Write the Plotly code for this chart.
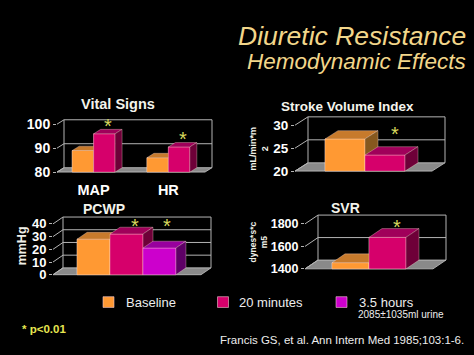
import plotly.graph_objects as go

W, H = 474, 355

# ---------------- data ----------------
series_names = ["Baseline", "20 minutes", "3.5 hours"]

vital_categories = ["MAP", "HR"]
vital_baseline = [89, 86]
vital_20min = [96, 90.5]
vital_ticks = [80, 90, 100]

svi_baseline = [27]
svi_20min = [23.5]
svi_ticks = [20, 25, 30]

pcwp_baseline = [28]
pcwp_20min = [32]
pcwp_35h = [21]
pcwp_ticks = [0, 10, 20, 30, 40]

svr_baseline = [1455]
svr_20min = [1680]
svr_ticks = [1400, 1600, 1800]

# significance (p<0.01) flags: per series, per category
vital_sig = [[False, False], [True, True]]
svi_sig = [[False], [True]]
pcwp_sig = [[False], [True], [True]]
svr_sig = [[False], [True]]

title_main = "Diuretic Resistance"
title_sub = "Hemodynamic Effects"
urine_note = "2085±1035ml urine"
p_note = "* p<0.01"
citation = "Francis GS, et al. Ann Intern Med 1985;103:1-6."

# ---------------- style ----------------
FONT = "Liberation Sans, Arial, sans-serif"
FRONT = ["#FF9933", "#D6006B", "#CC00CC"]
TOP = ["#C77A2C", "#A0005A", "#98009E"]
SIDE = ["#86581E", "#6E0038", "#5E0066"]
EDGE = "rgba(255,225,215,0.55)"
GRID = "#B4B4B4"
FLOOR = "#8A8A8A"
STAR = "#D9D95C"

panels = [
    dict(title="Vital Signs", title_pos=(118, 104, 14.5), cats=vital_categories,
         series=[vital_baseline, vital_20min], sig=vital_sig, ticks=vital_ticks,
         box=(57, 205, 125, 174), xspan=(-0.49, 1.49), bw=0.287, dx=7, dy=4.5,
         tick_size=14, star_gap=8.5, star_level=None, star_dx=4,
         ytitle=None),
    dict(title="Stroke Volume Index", title_pos=(347.5, 107, 13.5), cats=[""],
         series=[svi_baseline, svi_20min], sig=svi_sig, ticks=svi_ticks,
         box=(295, 432, 126, 173), xspan=(-1.75, 1.675), bw=1.0, dx=13, dy=8.5,
         tick_size=13.5, star_gap=None, star_level=29.2, star_dx=10,
         ytitle=("mL/min*m<br>2", 259, 150, 9)),
    dict(title="PCWP", title_pos=(104, 212, 14), cats=[""],
         series=[pcwp_baseline, pcwp_20min, pcwp_35h], sig=pcwp_sig, ticks=pcwp_ticks,
         box=(53, 201, 227, 279), xspan=(-2.23, 2.26), bw=1.0, dx=10, dy=7,
         tick_size=13, star_gap=None, star_level=42.0, star_dx=8,
         ytitle=("mmHg", 22, 250, 12.5)),
    dict(title="SVR", title_pos=(345, 211, 14), cats=[""],
         series=[svr_baseline, svr_20min], sig=svr_sig, ticks=svr_ticks,
         box=(305, 433, 227, 273), xspan=(-1.73, 1.73), bw=1.0, dx=13, dy=9,
         tick_size=12.5, star_gap=None, star_level=1820, star_dx=9,
         ytitle=("dynes*s*c<br>m5", 258, 246, 8.5)),
]

fig = go.Figure()
shapes = []
annotations = []
layout_axes = {}


def px_x(px):
    return px / W


def px_y(py):
    return 1 - py / H


def note(px, py, text, size, color, xanchor="center", weight="normal", angle=0):
    annotations.append(dict(x=px_x(px), y=px_y(py), xref="paper", yref="paper",
                            xanchor=xanchor, yanchor="middle", text=text,
                            textangle=angle, showarrow=False,
                            font=dict(family=FONT, size=size, color=color, weight=weight)))


for i, p in enumerate(panels, start=1):
    sfx = "" if i == 1 else str(i)
    xref, yref = "x" + sfx, "y" + sfx
    xl, xr, yt, yb = p["box"]
    x_lo, x_hi = p["xspan"]
    ymin, ymax = p["ticks"][0], p["ticks"][-1]
    sx = (x_hi - x_lo) / (xr - xl)
    sy = (ymax - ymin) / (yb - yt)
    dxu, dyu = p["dx"] * sx, p["dy"] * sy
    pad = 2
    layout_axes["xaxis" + sfx] = dict(
        domain=[px_x(xl), px_x(xr + p["dx"] + pad)],
        range=[x_lo, x_hi + dxu + pad * sx],
        anchor=yref, showgrid=False, zeroline=False, showline=False,
        tickvals=list(range(len(p["cats"]))), ticktext=p["cats"],
        showticklabels=any(c for c in p["cats"]),
        ticks="outside", ticklen=3, tickcolor="rgba(0,0,0,0)",
        tickfont=dict(family=FONT, size=14.5, color="white", weight="bold"),
        fixedrange=True)
    layout_axes["yaxis" + sfx] = dict(
        domain=[px_y(yb + pad), px_y(yt - p["dy"] - pad)],
        range=[ymin - pad * sy, ymax + dyu + pad * sy],
        anchor=xref, showgrid=False, zeroline=False, showline=False,
        tickvals=p["ticks"], ticks="outside", ticklen=3, tickwidth=1,
        tickcolor=GRID,
        tickfont=dict(family=FONT, size=p["tick_size"], color="white", weight="bold"),
        fixedrange=True)

    # floor and back walls (below traces)
    fx0, fx1 = x_lo, x_hi
    shapes.append(dict(type="path", xref=xref, yref=yref, layer="below",
                       path=f"M{fx0},{ymin} L{fx1},{ymin} L{fx1+dxu},{ymin+dyu} L{fx0+dxu},{ymin+dyu} Z",
                       fillcolor=FLOOR, line=dict(color="#C8C8C8", width=0.8)))
    for t in p["ticks"]:
        if t != ymin:
            shapes.append(dict(type="line", xref=xref, yref=yref, layer="below",
                               x0=fx0 + dxu, x1=fx1 + dxu, y0=t + dyu, y1=t + dyu,
                               line=dict(color=GRID, width=1)))
        shapes.append(dict(type="line", xref=xref, yref=yref, layer="below",
                           x0=fx0, x1=fx0 + dxu, y0=t, y1=t + dyu,
                           line=dict(color=GRID, width=1)))
    for xe in (fx0 + dxu, fx1 + dxu):
        shapes.append(dict(type="line", xref=xref, yref=yref, layer="below",
                           x0=xe, x1=xe, y0=ymin + dyu, y1=ymax + dyu,
                           line=dict(color=GRID, width=1)))

    # bars
    n = len(p["series"])
    bw = p["bw"]
    boxes = []
    for s, vals in enumerate(p["series"]):
        xs = [c + (s - (n - 1) / 2) * bw for c in range(len(vals))]
        fig.add_trace(go.Bar(
            x=xs, y=[v - ymin for v in vals], base=ymin, width=bw,
            name=series_names[s], marker=dict(color=FRONT[s], line=dict(color=EDGE, width=0.6)),
            xaxis=xref, yaxis=yref, showlegend=False, hoverinfo="skip"))
        for c, (xc, v) in enumerate(zip(xs, vals)):
            boxes.append((xc, v, s, p["sig"][s][c]))

    # 3-D faces, painted left to right
    for xc, v, s, sig in sorted(boxes, key=lambda b: b[0]):
        xa, xb = xc - bw / 2, xc + bw / 2
        polys = [
            ([xa, xb, xb, xa, xa], [ymin, ymin, v, v, ymin], FRONT[s]),
            ([xa, xb, xb + dxu, xa + dxu, xa], [v, v, v + dyu, v + dyu, v], TOP[s]),
            ([xb, xb + dxu, xb + dxu, xb, xb], [ymin, ymin + dyu, v + dyu, v, ymin], SIDE[s]),
        ]
        for px_, py_, col in polys:
            fig.add_trace(go.Scatter(
                x=px_, y=py_, mode="lines", fill="toself", fillcolor=col,
                line=dict(color=EDGE, width=0.6), xaxis=xref, yaxis=yref,
                showlegend=False, hoverinfo="skip"))
        if sig:
            if p["star_level"] is not None:
                ys = p["star_level"]
            else:
                ys = v + dyu + p["star_gap"] * sy
            annotations.append(dict(x=xc + p["star_dx"] * sx, y=ys, xref=xref, yref=yref, text="*",
                                    xanchor="center", yanchor="middle",
                                    showarrow=False, yshift=-5,
                                    font=dict(family=FONT, size=20, color=STAR)))

    tx, ty, tsz = p["title_pos"]
    note(tx, ty, p["title"], tsz, "#F4F4EC", weight="bold")
    if p["ytitle"]:
        txt, ax_, ay_, fs = p["ytitle"]
        note(ax_, ay_, txt, fs, "#F0F0E8", weight="bold", angle=-90)

# titles
note(468, 35, f"<i>{title_main}</i>", 26.5, "#F2D68A", xanchor="right")
note(468, 61, f"<i>{title_sub}</i>", 22.5, "#F2D68A", xanchor="right")

# legend
leg_sq = [108.5, 223, 341.5]
leg_tx = [124, 237, 357]
for s, name in enumerate(series_names):
    shapes.append(dict(type="rect", xref="paper", yref="paper",
                       x0=px_x(leg_sq[s] - 5.5), x1=px_x(leg_sq[s] + 5.5),
                       y0=px_y(312.5), y1=px_y(301.5), fillcolor=FRONT[s],
                       line=dict(color="#F0C8D0", width=0.6)))
    note(leg_tx[s], 307, name, 13, "#EDEDED", xanchor="left")
note(356, 320, urine_note, 10, "#EDEDED", xanchor="left")
note(20, 335, p_note, 11.5, "#E6E650", xanchor="left", weight="bold")
note(466, 346, citation, 11.5, "#EDEDED", xanchor="right")

fig.update_layout(
    width=W, height=H, margin=dict(l=0, r=0, t=0, b=0),
    paper_bgcolor="black", plot_bgcolor="rgba(0,0,0,0)",
    barmode="overlay", showlegend=False,
    shapes=shapes, annotations=annotations,
    font=dict(family=FONT, color="white"),
    **layout_axes)

fig.write_html("out.html", config={"displayModeBar": False},
               post_script="document.body.style.margin='0';document.body.style.background='black';")
